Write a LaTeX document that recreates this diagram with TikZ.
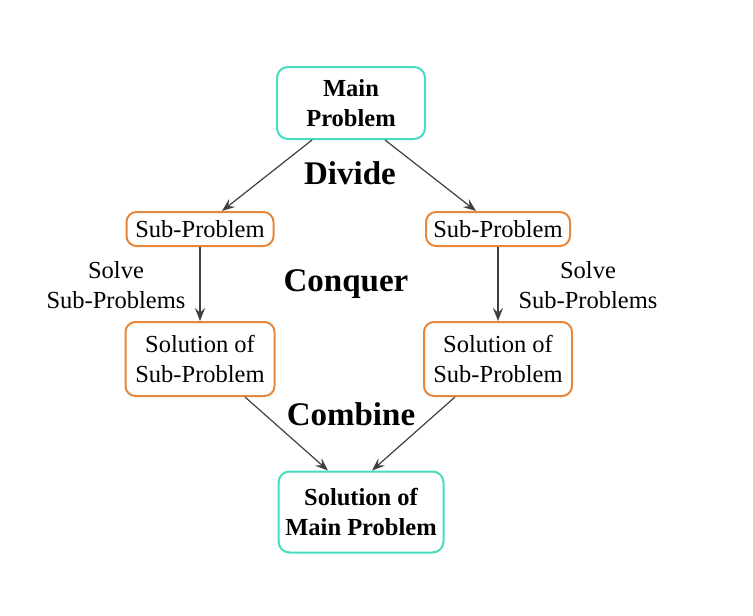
\documentclass[tikz,border=0pt]{standalone}
\usepackage{fontspec}
\setmainfont{Liberation Serif}
\usetikzlibrary{arrows.meta}
\definecolor{teal1}{HTML}{45DCC0}
\definecolor{orng}{HTML}{E8863A}
\tikzset{
  mainbox/.style={draw=teal1, line width=2pt, rounded corners=11pt, fill=white, align=center, inner sep=0pt, font=\fontsize{24.5}{30}\selectfont\bfseries},
  subbox/.style={draw=orng, line width=2pt, rounded corners=10pt, fill=white, align=center, inner sep=0pt, font=\fontsize{24.5}{30}\selectfont},
  head/.style={font=\fontsize{33}{36}\selectfont\bfseries},
  side/.style={align=center, font=\fontsize{24.5}{30}\selectfont},
  arr/.style={draw=black!75, line width=1.2pt, -{Stealth[length=13pt,width=10pt,inset=5pt]}},
}
\begin{document}
\begin{tikzpicture}[x=1pt,y=-1pt]
\useasboundingbox (0,0) rectangle (753,616);
\node[mainbox, minimum width=148pt, minimum height=72pt] (main) at (351,103) {Main\\Problem};
\node[subbox, minimum width=147pt, minimum height=34pt] (subL) at (200,229) {Sub-Problem};
\node[subbox, minimum width=144pt, minimum height=34pt] (subR) at (498,229) {Sub-Problem};
\node[subbox, minimum width=149pt, minimum height=74pt] (solL) at (200,359) {Solution of\\Sub-Problem};
\node[subbox, minimum width=148pt, minimum height=74pt] (solR) at (498,359) {Solution of\\Sub-Problem};
\node[mainbox, minimum width=165pt, minimum height=81pt] (fin) at (361,512) {Solution of\\Main Problem};
\node[head] (divide) at (350,173) {Divide};
\node[head] (conquer) at (346,284) {Conquer};
\node[head] (combine) at (351,414) {Combine};
\node[side] (solveL) at (116,285) {Solve\\Sub-Problems};
\node[side] (solveR) at (588,285) {Solve\\Sub-Problems};
\draw[arr] ([xshift=-39pt]main.south) -- ([xshift=22pt]subL.north);
\draw[arr] ([xshift=34pt]main.south) -- ([xshift=-22pt]subR.north);
\draw[arr] (subL.south) -- (solL.north);
\draw[arr] (subR.south) -- (solR.north);
\draw[arr] ([xshift=45pt]solL.south) -- ([xshift=-33pt]fin.north);
\draw[arr] ([xshift=-43pt]solR.south) -- ([xshift=11pt]fin.north);
\end{tikzpicture}
\end{document}
